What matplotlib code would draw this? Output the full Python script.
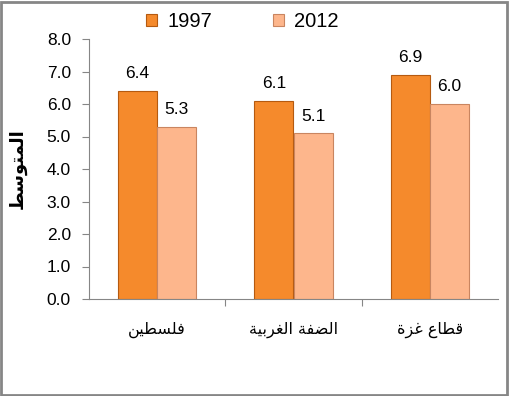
import matplotlib
matplotlib.use("Agg")
import matplotlib.pyplot as plt
import matplotlib.patches as patches
import numpy as np

# data
categories = ["فلسطين", "الضفة الغربية", "قطاع غزة"]
years = ["1997", "2012"]
values_1997 = [6.4, 6.1, 6.9]
values_2012 = [5.3, 5.1, 6.0]
y_label = "المتوسط"

# minimal arabic shaping (matplotlib has no shaping / bidi)
FORMS = {
    "ا": (0xFE8D, 0xFE8E, None, None),
    "ب": (0xFE8F, 0xFE90, 0xFE91, 0xFE92),
    "ة": (0xFE93, 0xFE94, None, None),
    "ت": (0xFE95, 0xFE96, 0xFE97, 0xFE98),
    "ر": (0xFEAD, 0xFEAE, None, None),
    "ز": (0xFEAF, 0xFEB0, None, None),
    "س": (0xFEB1, 0xFEB2, 0xFEB3, 0xFEB4),
    "ض": (0xFEBD, 0xFEBE, 0xFEBF, 0xFEC0),
    "ط": (0xFEC1, 0xFEC2, 0xFEC3, 0xFEC4),
    "ع": (0xFEC9, 0xFECA, 0xFECB, 0xFECC),
    "غ": (0xFECD, 0xFECE, 0xFECF, 0xFED0),
    "ف": (0xFED1, 0xFED2, 0xFED3, 0xFED4),
    "ق": (0xFED5, 0xFED6, 0xFED7, 0xFED8),
    "ل": (0xFEDD, 0xFEDE, 0xFEDF, 0xFEE0),
    "م": (0xFEE1, 0xFEE2, 0xFEE3, 0xFEE4),
    "ن": (0xFEE5, 0xFEE6, 0xFEE7, 0xFEE8),
    "و": (0xFEED, 0xFEEE, None, None),
    "ي": (0xFEF1, 0xFEF2, 0xFEF3, 0xFEF4),
}


def shape(text):
    out = []
    for i, ch in enumerate(text):
        if ch not in FORMS:
            out.append(ch)
            continue
        prev = text[i - 1] if i > 0 else ""
        nxt = text[i + 1] if i + 1 < len(text) else ""
        join_prev = prev in FORMS and FORMS[prev][2] is not None
        join_next = nxt in FORMS and FORMS[ch][2] is not None
        iso, fin, ini, med = FORMS[ch]
        if join_prev and join_next:
            code = med
        elif join_prev:
            code = fin
        elif join_next:
            code = ini
        else:
            code = iso
        out.append(chr(code))
    return "".join(out)[::-1]


plt.rcParams["font.family"] = ["Liberation Sans", "DejaVu Sans"]

fig = plt.figure(figsize=(5.09, 3.96), dpi=100)
ax = fig.add_axes([89 / 509, 1 - 299 / 396, (498 - 89) / 509, (299 - 39) / 396])

x = np.arange(len(categories))
w = 0.287
c1 = "#F58A2C"
c2 = "#FDB68C"
b1 = ax.bar(x - w / 2, values_1997, w, color=c1, edgecolor="#B55A10", linewidth=0.8, label=years[0])
b2 = ax.bar(x + w / 2, values_2012, w, color=c2, edgecolor="#C98560", linewidth=0.8, label=years[1])

for bars, vals in [(b1, values_1997), (b2, values_2012)]:
    for bar, v in zip(bars, vals):
        ax.annotate(f"{v:.1f}", (bar.get_x() + bar.get_width() / 2, v),
                    xytext=(0, 7), textcoords="offset points",
                    ha="center", va="bottom", fontsize=12.5)

ax.set_xlim(-0.5, 2.5)
ax.set_ylim(0, 8)
ticks = np.arange(0, 8.1, 1)
ax.set_yticks(ticks)
ax.set_yticklabels([f"{t:.1f}" for t in ticks], fontsize=12.5)
ax.set_xticks([0.5, 1.5], minor=False)
ax.set_xticks(x, minor=True)
ax.set_xticklabels([])
ax.set_xticklabels([shape(c) for c in categories], minor=True, fontsize=11.5,
                   family=["DejaVu Sans"])
ax.tick_params(axis="x", which="minor", length=0, pad=16)
ax.tick_params(axis="x", which="major", length=5, color="#868686", direction="out")
ax.tick_params(axis="y", length=5, color="#868686", direction="out", pad=8)

for s in ["top", "right"]:
    ax.spines[s].set_visible(False)
for s in ["left", "bottom"]:
    ax.spines[s].set_color("#868686")

ax.set_ylabel(shape(y_label), fontsize=13, fontweight="bold", labelpad=14,
              family=["DejaVu Sans"])

fig.legend(handles=[b1, b2], labels=years, loc="upper center", ncol=2,
           bbox_to_anchor=(0.476, 1.015), frameon=False, fontsize=14.5,
           handlelength=0.55, handleheight=0.55, columnspacing=3.0, handletextpad=0.5)

fig.patches.append(patches.Rectangle((0.002, 0.003), 0.994, 0.993, transform=fig.transFigure,
                                     fill=False, edgecolor="#868686", linewidth=2))

fig.savefig("out.png", dpi=100)
